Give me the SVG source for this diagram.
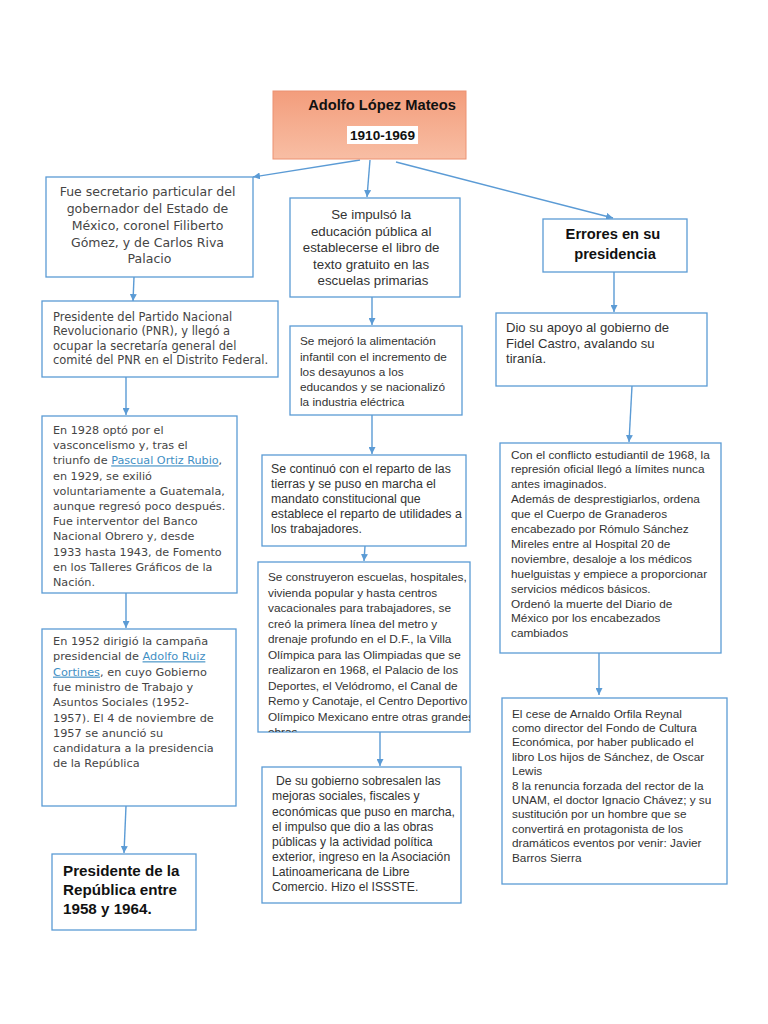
<svg xmlns="http://www.w3.org/2000/svg" width="768" height="1024" viewBox="0 0 768 1024">
<style>
.box{fill:#ffffff;stroke:#5b9bd5;stroke-width:1.3}
.c{fill:none;stroke:#5b9bd5;stroke-width:1.4}
.dv{font-family:"DejaVu Sans",Verdana,sans-serif;fill:#454545}
.ar{font-family:"Liberation Sans",Arial,sans-serif;fill:#333333}
.b{font-weight:bold;fill:#111111}
.lnk{fill:#3f8fc4;text-decoration:underline}
</style>
<defs>
<linearGradient id="tg" x1="0" y1="0" x2="0" y2="1">
<stop offset="0" stop-color="#f39d7c"/>
<stop offset="1" stop-color="#f8bea4"/>
</linearGradient>
<marker id="ah" viewBox="0 0 10 10" refX="10" refY="5" markerWidth="7" markerHeight="7" markerUnits="userSpaceOnUse" orient="auto">
<path d="M0,0 L10,5 L0,10 z" fill="#5b9bd5"/>
</marker>
<clipPath id="clipM4"><rect x="258" y="562" width="212" height="170"/></clipPath>
</defs>
<rect width="768" height="1024" fill="#ffffff"/>

<g id="connectors">
<line class="c" x1="360" y1="160" x2="253" y2="177" marker-end="url(#ah)"/>
<line class="c" x1="370" y1="160" x2="367" y2="197" marker-end="url(#ah)"/>
<line class="c" x1="396" y1="162" x2="613" y2="218" marker-end="url(#ah)"/>
<line class="c" x1="134" y1="277" x2="133" y2="301" marker-end="url(#ah)"/>
<line class="c" x1="126" y1="377" x2="126" y2="415" marker-end="url(#ah)"/>
<line class="c" x1="126" y1="593" x2="126" y2="628" marker-end="url(#ah)"/>
<line class="c" x1="126" y1="806" x2="124" y2="853" marker-end="url(#ah)"/>
<line class="c" x1="372" y1="297" x2="372" y2="325" marker-end="url(#ah)"/>
<line class="c" x1="372" y1="415" x2="372" y2="454" marker-end="url(#ah)"/>
<line class="c" x1="365" y1="546" x2="364" y2="561" marker-end="url(#ah)"/>
<line class="c" x1="380" y1="732" x2="380" y2="766" marker-end="url(#ah)"/>
<line class="c" x1="614" y1="272" x2="614" y2="312" marker-end="url(#ah)"/>
<line class="c" x1="632" y1="386" x2="629" y2="442" marker-end="url(#ah)"/>
<line class="c" x1="599" y1="653" x2="599" y2="695" marker-end="url(#ah)"/>
</g>

<g id="title">
<rect x="273" y="91" width="193" height="68" fill="url(#tg)" stroke="#ec9272" stroke-width="1"/>
<text class="ar b" x="382" y="110" font-size="14.7" text-anchor="middle">Adolfo López Mateos</text>
<rect x="347" y="126" width="71" height="18" fill="#ffffff"/>
<text class="ar b" x="382.5" y="140" font-size="13.6" text-anchor="middle">1910-1969</text>
</g>

<g id="left1">
<rect class="box" x="46" y="177" width="207" height="100"/>
<text class="dv" font-size="12.5" text-anchor="middle" fill="#555555">
<tspan x="149.5" y="196">Fue secretario particular del</tspan>
<tspan x="149.5" y="213">gobernador del Estado de</tspan>
<tspan x="149.5" y="230">México, coronel Filiberto</tspan>
<tspan x="149.5" y="246.5">Gómez, y de Carlos Riva</tspan>
<tspan x="149.5" y="263">Palacio</tspan>
</text>
</g>

<g id="left2">
<rect class="box" x="42" y="301" width="236" height="76"/>
<text class="dv" font-size="11.5">
<tspan x="53" y="321">Presidente del Partido Nacional</tspan>
<tspan x="53" y="335">Revolucionario (PNR), y llegó a</tspan>
<tspan x="53" y="349.5">ocupar la secretaría general del</tspan>
<tspan x="53" y="364">comité del PNR en el Distrito Federal.</tspan>
</text>
</g>

<g id="left3">
<rect class="box" x="42" y="416" width="195" height="177"/>
<text class="dv" font-size="11.2">
<tspan x="53" y="434">En 1928 optó por el</tspan>
<tspan x="53" y="449.2">vasconcelismo y, tras el</tspan>
<tspan x="53" y="464.4">triunfo de <tspan class="lnk">Pascual Ortiz Rubio</tspan>,</tspan>
<tspan x="53" y="479.6">en 1929, se exilió</tspan>
<tspan x="53" y="494.8">voluntariamente a Guatemala,</tspan>
<tspan x="53" y="510">aunque regresó poco después.</tspan>
<tspan x="53" y="525.2">Fue interventor del Banco</tspan>
<tspan x="53" y="540.4">Nacional Obrero y, desde</tspan>
<tspan x="53" y="555.6">1933 hasta 1943, de Fomento</tspan>
<tspan x="53" y="570.8">en los Talleres Gráficos de la</tspan>
<tspan x="53" y="586">Nación.</tspan>
</text>
</g>

<g id="left4">
<rect class="box" x="42" y="629" width="194" height="177"/>
<text class="dv" font-size="11.3">
<tspan x="53" y="645">En 1952 dirigió la campaña</tspan>
<tspan x="53" y="660.3">presidencial de <tspan class="lnk">Adolfo Ruiz</tspan></tspan>
<tspan x="53" y="675.6" class="lnk">Cortines</tspan><tspan>, en cuyo Gobierno</tspan>
<tspan x="53" y="690.9">fue ministro de Trabajo y</tspan>
<tspan x="53" y="706.2">Asuntos Sociales (1952-</tspan>
<tspan x="53" y="721.5">1957). El 4 de noviembre de</tspan>
<tspan x="53" y="736.8">1957 se anunció su</tspan>
<tspan x="53" y="752.1">candidatura a la presidencia</tspan>
<tspan x="53" y="767.4">de la República</tspan>
</text>
</g>

<g id="left5">
<rect class="box" x="52" y="854" width="144" height="76"/>
<text class="ar b" font-size="15.2">
<tspan x="63" y="876">Presidente de la</tspan>
<tspan x="63" y="895">República entre</tspan>
<tspan x="63" y="914">1958 y 1964.</tspan>
</text>
</g>

<g id="mid1">
<rect class="box" x="290" y="198" width="170" height="99"/>
<text class="ar" font-size="13.3" text-anchor="middle">
<tspan x="373" y="219">Se impulsó la</tspan>
<tspan x="373" y="235.5">educación pública al</tspan>
<tspan x="373" y="252">establecerse el libro de</tspan>
<tspan x="373" y="268.5">texto gratuito en las</tspan>
<tspan x="373" y="285">escuelas primarias</tspan>
</text>
</g>

<g id="mid2">
<rect class="box" x="290" y="326" width="172" height="89"/>
<text class="ar" font-size="11.8">
<tspan x="300" y="345">Se mejoró la alimentación</tspan>
<tspan x="300" y="360.5">infantil con el incremento de</tspan>
<tspan x="300" y="376">los desayunos a los</tspan>
<tspan x="300" y="391">educandos y se nacionalizó</tspan>
<tspan x="300" y="406">la industria eléctrica</tspan>
</text>
</g>

<g id="mid3">
<rect class="box" x="262" y="455" width="204" height="91"/>
<text class="ar" font-size="12.3">
<tspan x="271" y="472.5">Se continuó con el reparto de las</tspan>
<tspan x="271" y="487.5">tierras y se puso en marcha el</tspan>
<tspan x="271" y="503">mandato constitucional que</tspan>
<tspan x="271" y="518">establece el reparto de utilidades a</tspan>
<tspan x="271" y="533">los trabajadores.</tspan>
</text>
</g>

<g id="mid4">
<rect class="box" x="258" y="562" width="212" height="170"/>
<text class="ar" font-size="11.8" clip-path="url(#clipM4)">
<tspan x="268" y="581">Se construyeron escuelas, hospitales,</tspan>
<tspan x="268" y="596.5">vivienda popular y hasta centros</tspan>
<tspan x="268" y="612">vacacionales para trabajadores, se</tspan>
<tspan x="268" y="627.5">creó la primera línea del metro y</tspan>
<tspan x="268" y="643">drenaje profundo en el D.F., la Villa</tspan>
<tspan x="268" y="658.5">Olímpica para las Olimpiadas que se</tspan>
<tspan x="268" y="674">realizaron en 1968, el Palacio de los</tspan>
<tspan x="268" y="689.5">Deportes, el Velódromo, el Canal de</tspan>
<tspan x="268" y="705">Remo y Canotaje, el Centro Deportivo</tspan>
<tspan x="268" y="720.5">Olímpico Mexicano entre otras grandes</tspan>
<tspan x="268" y="736">obras</tspan>
</text>
</g>

<g id="mid5">
<rect class="box" x="262" y="767" width="199" height="136"/>
<text class="ar" font-size="12.2">
<tspan x="276" y="784.5">De su gobierno sobresalen las</tspan>
<tspan x="272" y="800">mejoras sociales, fiscales y</tspan>
<tspan x="272" y="816">económicas que puso en marcha,</tspan>
<tspan x="272" y="831">el impulso que dio a las obras</tspan>
<tspan x="272" y="846">públicas y la actividad política</tspan>
<tspan x="272" y="861">exterior, ingreso en la Asociación</tspan>
<tspan x="272" y="876">Latinoamericana de Libre</tspan>
<tspan x="272" y="891">Comercio. Hizo el ISSSTE.</tspan>
</text>
</g>

<g id="right1">
<rect class="box" x="543" y="219" width="144" height="53"/>
<text class="ar b" font-size="14.7" text-anchor="middle">
<tspan x="615" y="239">Errores en su</tspan>
<tspan x="615" y="258.5">presidencia</tspan>
</text>
</g>

<g id="right2">
<rect class="box" x="496" y="313" width="211" height="73"/>
<text class="ar" font-size="13.1">
<tspan x="506" y="332">Dio su apoyo al gobierno de</tspan>
<tspan x="506" y="347.5">Fidel Castro, avalando su</tspan>
<tspan x="506" y="363">tiranía.</tspan>
</text>
</g>

<g id="right3">
<rect class="box" x="500" y="443" width="221" height="210"/>
<text class="ar" font-size="11.8">
<tspan x="511" y="458.5">Con el conflicto estudiantil de 1968, la</tspan>
<tspan x="511" y="473.4">represión oficial llegó a límites nunca</tspan>
<tspan x="511" y="488.3">antes imaginados.</tspan>
<tspan x="511" y="503.2">Además de desprestigiarlos, ordena</tspan>
<tspan x="511" y="518.1">que el Cuerpo de Granaderos</tspan>
<tspan x="511" y="533">encabezado por Rómulo Sánchez</tspan>
<tspan x="511" y="547.9">Mireles entre al Hospital 20 de</tspan>
<tspan x="511" y="562.8">noviembre, desaloje a los médicos</tspan>
<tspan x="511" y="577.7">huelguistas y empiece a proporcionar</tspan>
<tspan x="511" y="592.6">servicios médicos básicos.</tspan>
<tspan x="511" y="607.5">Ordenó la muerte del Diario de</tspan>
<tspan x="511" y="622.4">México por los encabezados</tspan>
<tspan x="511" y="637.3">cambiados</tspan>
</text>
</g>

<g id="right4">
<rect class="box" x="502" y="698" width="225" height="186"/>
<text class="ar" font-size="11.8">
<tspan x="512" y="717.5">El cese de Arnaldo Orfila Reynal</tspan>
<tspan x="512" y="731.9">como director del Fondo de Cultura</tspan>
<tspan x="512" y="746.3">Económica, por haber publicado el</tspan>
<tspan x="512" y="760.7">libro Los hijos de Sánchez, de Oscar</tspan>
<tspan x="512" y="775.1">Lewis</tspan>
<tspan x="512" y="789.5">8 la renuncia forzada del rector de la</tspan>
<tspan x="512" y="803.9">UNAM, el doctor Ignacio Chávez; y su</tspan>
<tspan x="512" y="818.3">sustitución por un hombre que se</tspan>
<tspan x="512" y="832.7">convertirá en protagonista de los</tspan>
<tspan x="512" y="847.1">dramáticos eventos por venir: Javier</tspan>
<tspan x="512" y="861.5">Barros Sierra</tspan>
</text>
</g>
</svg>
